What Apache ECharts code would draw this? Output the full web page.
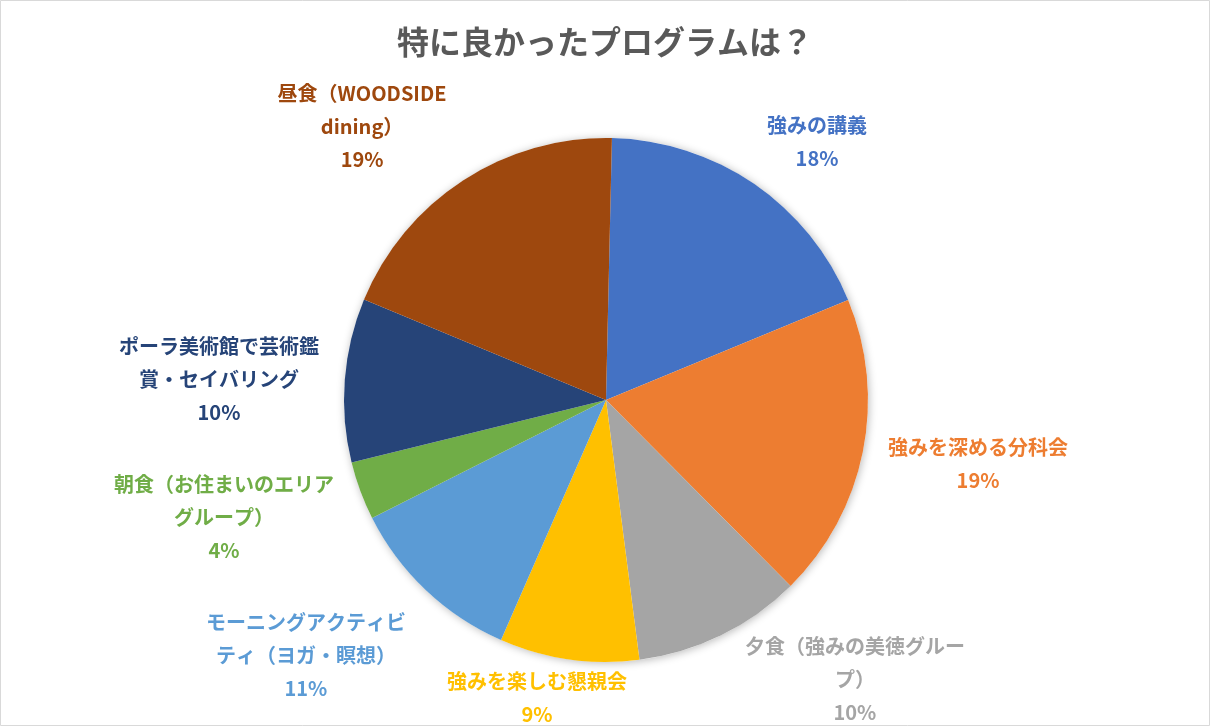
<!DOCTYPE html>
<html>
<head>
<meta charset="utf-8">
<script src="https://cdn.jsdelivr.net/npm/echarts@6/dist/echarts.min.js"></script>
<style>
html,body{margin:0;padding:0;background:#fff;}
#chart{width:1210px;height:727px;}
</style>
</head>
<body>
<div id="chart"></div>
<script>
// ---- data ----
const title = '特に良かったプログラムは？';
const categories = [
  '強みの講義',
  '強みを深める分科会',
  '夕食（強みの美徳グループ）',
  '強みを楽しむ懇親会',
  'モーニングアクティビティ（ヨガ・瞑想）',
  '朝食（お住まいのエリアグループ）',
  'ポーラ美術館で芸術鑑賞・セイバリング',
  '昼食（WOODSIDE dining）'
];
const shares = [18.4, 18.8, 10.4, 8.6, 11.0, 3.6, 10.1, 19.1];
// label text as wrapped in the reference
const labelTexts = [
  '強みの講義',
  '強みを深める分科会',
  '夕食（強みの美徳グルー\nプ）',
  '強みを楽しむ懇親会',
  'モーニングアクティビ\nティ（ヨガ・瞑想）',
  '朝食（お住まいのエリア\nグループ）',
  'ポーラ美術館で芸術鑑\n賞・セイバリング',
  '昼食（WOODSIDE\ndining）'
];

// ---- styles ----
const colors = ['#4472C4', '#ED7D31', '#A5A5A5', '#FFC000', '#5B9BD5', '#70AD47', '#264478', '#9E480E'];
const lineLen = [50.8, 62.4, 48.6, 39.0, 89.0, 76.7, 14.3, 64.4];
const lineLen2 = [-15.8, -36, 2.5, -63.6, -41.2, -45.7, 11.5, -18.7];
const FONT = '"Noto Sans CJK JP", "Noto Sans", sans-serif';

const chart = echarts.init(document.getElementById('chart'), null, {renderer: 'canvas'});

const pieData = categories.map((name, i) => ({
  name: name,
  value: shares[i],
  itemStyle: {color: colors[i]},
  label: {color: colors[i]},
  labelLine: {show: false, length: lineLen[i], length2: lineLen2[i]}
}));

chart.setOption({
  backgroundColor: '#fff',
  animation: false,
  title: {
    text: title,
    left: 'center',
    top: 21,
    textStyle: {fontFamily: FONT, fontSize: 32, fontWeight: 'bold', color: '#595959'}
  },
  graphic: [{
    type: 'rect',
    silent: true,
    shape: {x: 0.5, y: 0.5, width: 1209, height: 725},
    style: {fill: 'none', stroke: '#d9d9d9', lineWidth: 1}
  }],
  series: [
    {
      type: 'pie',
      name: 'backdrop',
      silent: true,
      center: [606, 400],
      radius: 262,
      z: 1,
      label: {show: false},
      labelLine: {show: false},
      itemStyle: {color: '#ffffff', shadowBlur: 8, shadowColor: 'rgba(0,0,0,0.28)', shadowOffsetX: 1, shadowOffsetY: 1},
      data: [{value: 100, name: ''}]
    },
    {
      type: 'pie',
      name: title,
      center: [606, 400],
      radius: 262,
      z: 2,
      startAngle: 88.7,
      clockwise: true,
      avoidLabelOverlap: false,
      percentPrecision: 0,
      itemStyle: {borderWidth: 0},
      label: {
        show: true,
        position: 'outside',
        distanceToLabelLine: 0,
        fontFamily: FONT,
        fontSize: 20,
        fontWeight: 'bold',
        lineHeight: 33,
        formatter: p => labelTexts[p.dataIndex] + '\n' + p.percent + '%'
      },
      labelLine: {show: false},
      labelLayout: function (p) {
        if (p.seriesIndex !== 1) return {};
        return {
          x: p.labelRect.x + p.labelRect.width / 2,
          y: p.labelRect.y + p.labelRect.height / 2,
          align: 'center',
          verticalAlign: 'middle'
        };
      },
      data: pieData
    }
  ]
});
</script>
</body>
</html>
